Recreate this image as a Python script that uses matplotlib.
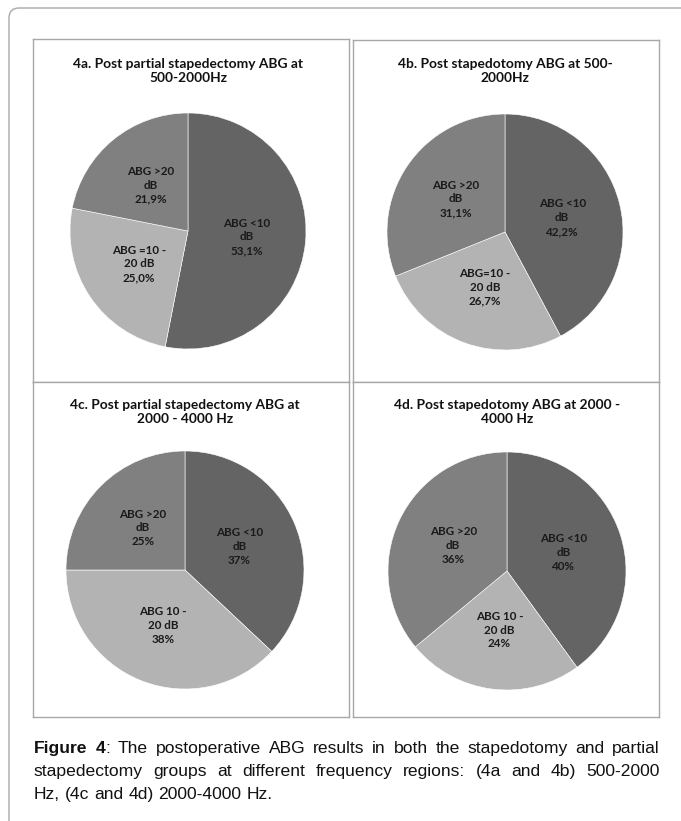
import matplotlib.pyplot as plt
import numpy as np
from matplotlib.patches import FancyBboxPatch

W, H = 681, 821

# chart data
titles = [
    "4a. Post partial stapedectomy ABG at\n500-2000Hz",
    "4b. Post stapedotomy ABG at 500-\n2000Hz",
    "4c. Post partial stapedectomy ABG at\n2000 - 4000 Hz",
    "4d. Post stapedotomy ABG at 2000 -\n4000 Hz",
]
values_4a = [53.1, 25.0, 21.9]
values_4b = [42.2, 26.7, 31.1]
values_4c = [37, 38, 25]
values_4d = [40, 24, 36]
pct_4a = ["53,1%", "25,0%", "21,9%"]
pct_4b = ["42,2%", "26,7%", "31,1%"]
pct_4c = ["37%", "38%", "25%"]
pct_4d = ["40%", "24%", "36%"]
cats_4a = ["ABG <10\ndB", "ABG =10 -\n20 dB", "ABG >20\ndB"]
cats_4b = ["ABG <10\ndB", "ABG=10 -\n20 dB", "ABG >20\ndB"]
cats_4c = ["ABG <10\ndB", "ABG 10 -\n20 dB", "ABG >20\ndB"]
cats_4d = ["ABG <10\ndB", "ABG 10 -\n20 dB", "ABG >20\ndB"]

caption_lines = [
    "Figure 4: The postoperative ABG results in both the stapedotomy and partial",
    "stapedectomy groups at different frequency regions: (4a and 4b) 500-2000",
    "Hz, (4c and 4d) 2000-4000 Hz.",
]

colors = ["#646464", "#b3b3b3", "#808080"]
frame_col = "#a8a8a8"

# layout in pixels: box (x0, y0, x1, y1), pie centre + radius, title y
boxes = [(33, 39, 349, 382), (353, 40, 659, 382), (33, 382, 349, 717), (353, 382, 659, 717)]
pies = [(188, 231, 118), (505, 232, 118), (185, 570, 119), (507, 571, 119)]
title_y = [71, 71, 412, 412]

all_values = [values_4a, values_4b, values_4c, values_4d]
all_pcts = [pct_4a, pct_4b, pct_4c, pct_4d]
all_cats = [cats_4a, cats_4b, cats_4c, cats_4d]

fig = plt.figure(figsize=(W / 100, H / 100), dpi=100)

# background axes in pixel coordinates (y downward)
bg = fig.add_axes([0, 0, 1, 1])
bg.set_xlim(0, W)
bg.set_ylim(H, 0)
bg.axis("off")
bg.add_patch(FancyBboxPatch((9, 8), 900, 1000, boxstyle="round,pad=0,rounding_size=10",
                            fill=False, edgecolor=frame_col, linewidth=1.0))

for i in range(4):
    x0, y0, x1, y1 = boxes[i]
    cx, cy, r = pies[i]
    ax = fig.add_axes([x0 / W, 1 - y1 / H, (x1 - x0) / W, (y1 - y0) / H])
    pc = (cx - x0, y1 - cy)
    wedges, _ = ax.pie(all_values[i], colors=colors, startangle=90, counterclock=False,
                       center=pc, radius=r, frame=True,
                       wedgeprops=dict(edgecolor="white", linewidth=0.4))
    ax.set_xlim(0, x1 - x0)
    ax.set_ylim(0, y1 - y0)
    ax.set_aspect("auto")
    ax.set_xticks([])
    ax.set_yticks([])
    for s in ax.spines.values():
        s.set_color(frame_col)
        s.set_linewidth(1.0)
    for w, cat, pct in zip(wedges, all_cats[i], all_pcts[i]):
        ang = np.deg2rad((w.theta1 + w.theta2) / 2)
        tx = pc[0] + 0.5 * r * np.cos(ang)
        ty = pc[1] + 0.5 * r * np.sin(ang)
        ax.text(tx, ty, cat + "\n" + pct, ha="center", va="center", fontsize=8.4,
                family="Lato", fontweight="bold", linespacing=1.3, color="#1a1a1a")
    ax.text(cx - x0, y1 - title_y[i], titles[i], ha="center", va="center", fontsize=9.9,
            family="Lato", fontweight="bold", linespacing=1.15, color="#111111")

# caption, justified like the source
renderer = fig.canvas.get_renderer()
cap_x0, cap_x1 = 34, 660
cap_y = [753, 776, 799]
fs = 12.6


def word_pieces(word, line_no, idx):
    if line_no == 0 and idx == 0:
        return [(word, "bold")]
    if line_no == 0 and idx == 1:
        return [("4", "bold"), (":", "normal")]
    return [(word, "normal")]


def text_width(txt, wt):
    t = bg.text(0, 0, txt, fontsize=fs, family="Liberation Sans", fontweight=wt)
    wd = t.get_window_extent(renderer).width
    t.remove()
    return wd


for ln, line in enumerate(caption_lines):
    words = line.split(" ")
    pieces = [word_pieces(wd, ln, k) for k, wd in enumerate(words)]
    widths = [sum(text_width(txt, wt) for txt, wt in pcs) for pcs in pieces]
    if ln < len(caption_lines) - 1:
        gap = (cap_x1 - cap_x0 - sum(widths)) / (len(words) - 1)
    else:
        gap = text_width("a b", "normal") - text_width("ab", "normal")
    x = cap_x0
    for pcs, wdt in zip(pieces, widths):
        xx = x
        for txt, wt in pcs:
            bg.text(xx, cap_y[ln], txt, fontsize=fs, family="Liberation Sans",
                    fontweight=wt, ha="left", va="baseline", color="#111111")
            xx += text_width(txt, wt)
        x += wdt + gap

fig.savefig("out.png", dpi=100)
